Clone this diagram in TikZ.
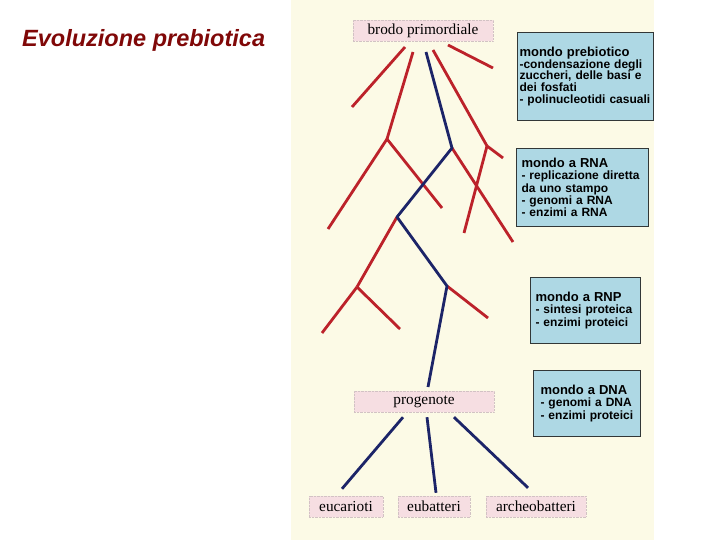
\documentclass[tikz,border=0pt]{standalone}
\usepackage{fontspec}
\setmainfont{Liberation Serif}
\setsansfont{Liberation Sans}
\definecolor{cream}{RGB}{252,250,230}
\definecolor{labpink}{RGB}{246,222,226}
\definecolor{boxblue}{RGB}{174,216,228}
\definecolor{boxedge}{RGB}{50,55,55}
\definecolor{treered}{RGB}{188,34,42}
\definecolor{treeblue}{RGB}{28,36,104}
\definecolor{titlered}{RGB}{128,8,8}

\begin{document}
\begin{tikzpicture}[x=1pt,
y=-1pt,
lab/.style={fill=labpink, draw=labpink!70!gray, densely dotted, inner sep=0pt, minimum height=21pt, font=\fontsize{15.3}{15}\selectfont},
info/.style={draw=boxedge, fill=boxblue, line width=1pt, anchor=north west, align=left, inner ysep=0pt, font=\sffamily\bfseries\fontsize{12}{12.3}\selectfont},
red/.style={draw=treered, line width=2.8pt},
blue/.style={draw=treeblue, line width=2.8pt}]

% background
\useasboundingbox (0,0) rectangle (720,540);
\fill[cream] (291,0) rectangle (654,540);

\node[anchor=base west, inner sep=0pt, text=titlered, font=\sffamily\bfseries\itshape\fontsize{23.5}{23.5}\selectfont] (title) at (22,47) {Evoluzione prebiotica};

% labels
\node[lab, minimum width=140pt] (brodo) at (423,30.5) {brodo primordiale};
\node[lab, minimum width=140pt] (prog) at (424,401.5) {progenote};
\node[lab, minimum width=74pt] (euc) at (346,506.5) {eucarioti};
\node[lab, minimum width=72pt] (eub) at (434,506.5) {eubatteri};
\node[lab, minimum width=100pt] (arc) at (536,506.5) {archeobatteri};

% boxes
\node[info, inner xsep=2pt, text width=132pt, minimum height=88pt, font=\sffamily\bfseries\fontsize{12}{11.6}\selectfont] (preb) at (517,32)
 {{\fontsize{13}{13}\selectfont mondo prebiotico}\\-condensazione degli\\zuccheri, delle basi e\\dei fosfati\\- polinucleotidi casuali};
\node[info, inner xsep=5pt, text width=122pt, minimum height=78pt] (rna) at (516,148)
 {{\fontsize{13}{13}\selectfont mondo a RNA}\\- replicazione diretta\\da uno stampo\\- genomi a RNA\\- enzimi a RNA};
\node[info, inner xsep=5pt, text width=100pt, minimum height=66pt] (rnp) at (530,277)
 {{\fontsize{13}{13}\selectfont mondo a RNP}\\- sintesi proteica\\- enzimi proteici};
\node[info, inner xsep=7pt, text width=93pt, minimum height=66pt] (dna) at (533,370)
 {{\fontsize{13}{13}\selectfont mondo a DNA}\\- genomi a DNA\\- enzimi proteici};

% branch points
\coordinate (s1) at (405,47);
\coordinate (s2) at (413,52);
\coordinate (s3) at (426,52);
\coordinate (s4) at (433,50);
\coordinate (s5) at (448,45);
\coordinate (a) at (452,148);
\coordinate (b) at (397,217);
\coordinate (c) at (447,286);
\coordinate (d) at (387,139);
\coordinate (e) at (487,146);
\coordinate (f) at (357,287);
\coordinate (p1) at (428,387);

% free ends
\coordinate (t1) at (352,107);
\coordinate (t2) at (328,229);
\coordinate (t3) at (442,208);
\coordinate (t4) at (503,158);
\coordinate (t5) at (464,233);
\coordinate (t6) at (493,68);
\coordinate (t7) at (513,242);
\coordinate (t8) at (322,333);
\coordinate (t9) at (400,329);
\coordinate (t10) at (488,318);

% red branches
\path[red]
 (s1) edge (t1)
 (s2) edge (d)
 (d) edge (t2)
 (d) edge (t3)
 (s4) edge (e)
 (e) edge (t4)
 (e) edge (t5)
 (s5) edge (t6)
 (a) edge (t7)
 (b) edge (f)
 (f) edge (t8)
 (f) edge (t9)
 (c) edge (t10);

% blue trunk
\draw[blue, line join=round] (s3) -- (a) -- (b) -- (c) -- (p1);
\path[blue]
 ([xshift=-21pt,yshift=-5pt]prog.south) edge ([xshift=-4pt,yshift=7pt]euc.north)
 ([xshift=3pt,yshift=-5pt]prog.south) edge ([xshift=2pt,yshift=3pt]eub.north)
 ([xshift=30pt,yshift=-5pt]prog.south) edge ([xshift=-8pt,yshift=8pt]arc.north);

\end{tikzpicture}
\end{document}
